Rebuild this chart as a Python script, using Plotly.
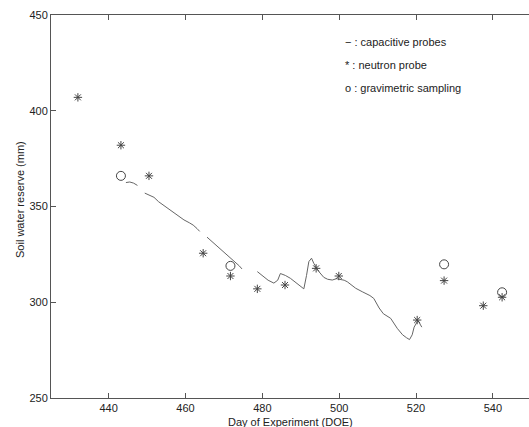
import plotly.graph_objects as go

# Capacitive probes (continuous line with gaps -> None)
cap_day = [444.5, 445.5, 446.5, 447.5, None,
           449.4, 450.5, 451.8, 453.0, 454.4, 455.8, 457.2, 459.6, 461.0, 462.0, 463.0, 463.7, None,
           465.6, 467.0, 468.5, 469.6, 471.0, 472.0, 473.1, 474.0, 474.7, None,
           478.7, 480.0, 481.5, 483.0, 484.0, 484.7, 486.0, 487.3, 489.0, 490.8, 491.5, 492.1, 492.8,
           493.4, 494.5, 496.0, 497.0, 498.2, 499.3, 500.4, 501.3, 502.1, 503.2, 504.3, 506.0, 508.0,
           509.0, 510.4, 511.5, 513.4, 515.1, 516.5, 517.5, 518.3, 519.0, 519.5, 520.5, 521.5]
cap_val = [362.5, 362.8, 362.2, 361.0, None,
           357.0, 356.0, 354.8, 352.5, 350.5, 348.5, 346.4, 343.0, 341.5, 340.3, 338.5, 337.0, None,
           334.0, 331.5, 329.0, 327.3, 324.5, 322.5, 321.0, 319.0, 317.4, None,
           316.0, 314.0, 311.5, 310.0, 311.5, 315.0, 314.0, 312.5, 310.0, 307.0, 314.0, 321.2, 323.0,
           320.3, 316.5, 313.0, 312.0, 311.6, 312.3, 312.0, 311.5, 310.7, 309.0, 307.3, 305.5, 303.5,
           302.0, 297.0, 294.0, 291.6, 286.4, 283.0, 281.5, 280.5, 283.0, 287.0, 290.5, 287.0]

# Neutron probe (*)
neu_day = [432.0, 443.2, 450.5, 464.6, 471.7, 478.7, 485.9, 494.0, 499.9, 520.3, 527.3, 537.5, 542.4]
neu_val = [407.0, 382.0, 366.0, 325.6, 313.7, 307.0, 309.0, 317.7, 313.7, 290.7, 311.3, 298.2, 302.6]

# Gravimetric sampling (o)
grav_day = [443.2, 471.7, 527.3, 542.4]
grav_val = [366.0, 319.0, 319.8, 305.2]

x_ticks = [440, 460, 480, 500, 520, 540]
y_ticks = [250, 300, 350, 400, 450]

legend_lines = ["\u2212 : capacitive probes", "* : neutron probe", "o : gravimetric sampling"]
x_title = "Day of Experiment (DOE)"
y_title = "Soil water reserve (mm)"

W, H = 529, 427
ml, mr, mt, mb = 51, 0, 15, 29
pw, ph = W - ml - mr, H - mt - mb


def px2paper(px, py):
    return (px - ml) / pw, 1 - (py - mt) / ph


fig = go.Figure()
fig.add_trace(go.Scatter(x=cap_day, y=cap_val, mode="lines",
                         line=dict(color="#666666", width=1), connectgaps=False,
                         showlegend=False, hoverinfo="skip"))
fig.add_trace(go.Scatter(x=neu_day, y=neu_val, mode="markers",
                         marker=dict(symbol="asterisk-open", size=7, color="#444444",
                                     line=dict(color="#444444", width=1)),
                         showlegend=False))
fig.add_trace(go.Scatter(x=grav_day, y=grav_val, mode="markers",
                         marker=dict(symbol="circle-open", size=9, color="#444444",
                                     line=dict(color="#444444", width=1)),
                         showlegend=False))

for i, t in enumerate(legend_lines):
    ax, ay = px2paper(343, 41.7 + i * 23.3)
    fig.add_annotation(x=ax, y=ay, xref="paper", yref="paper",
                       text=t, showarrow=False, xanchor="left", yanchor="middle",
                       font=dict(size=11, color="#222222"))

ax, ay = px2paper(290, 421.5)
fig.add_annotation(x=ax, y=ay, xref="paper", yref="paper", text=x_title,
                   showarrow=False, xanchor="center", yanchor="middle",
                   font=dict(size=11, color="#222222"))
ax, ay = px2paper(20, 200)
fig.add_annotation(x=ax, y=ay, xref="paper", yref="paper", text=y_title,
                   showarrow=False, xanchor="center", yanchor="middle", textangle=-90,
                   font=dict(size=11, color="#222222"))

axis_common = dict(showgrid=False, zeroline=False, showline=True, linecolor="#555555",
                   linewidth=1, ticks="inside", ticklen=5,
                   tickcolor="#555555", tickfont=dict(size=11, color="#222222"),
                   automargin=False)

fig.update_layout(
    width=W, height=H,
    margin=dict(l=ml, r=mr, t=mt, b=mb, autoexpand=False),
    paper_bgcolor="white", plot_bgcolor="white",
    font=dict(family="Liberation Sans, Arial, sans-serif", size=11, color="#222222"),
    xaxis=dict(range=[425, 549.4], tickvals=x_ticks, mirror="ticks", **axis_common),
    yaxis=dict(range=[250, 450], tickvals=y_ticks, mirror=False, **axis_common),
)

fig.write_html("out.html", config={"displayModeBar": False},
               post_script="document.body.style.margin='0';document.body.style.overflow='hidden';")
